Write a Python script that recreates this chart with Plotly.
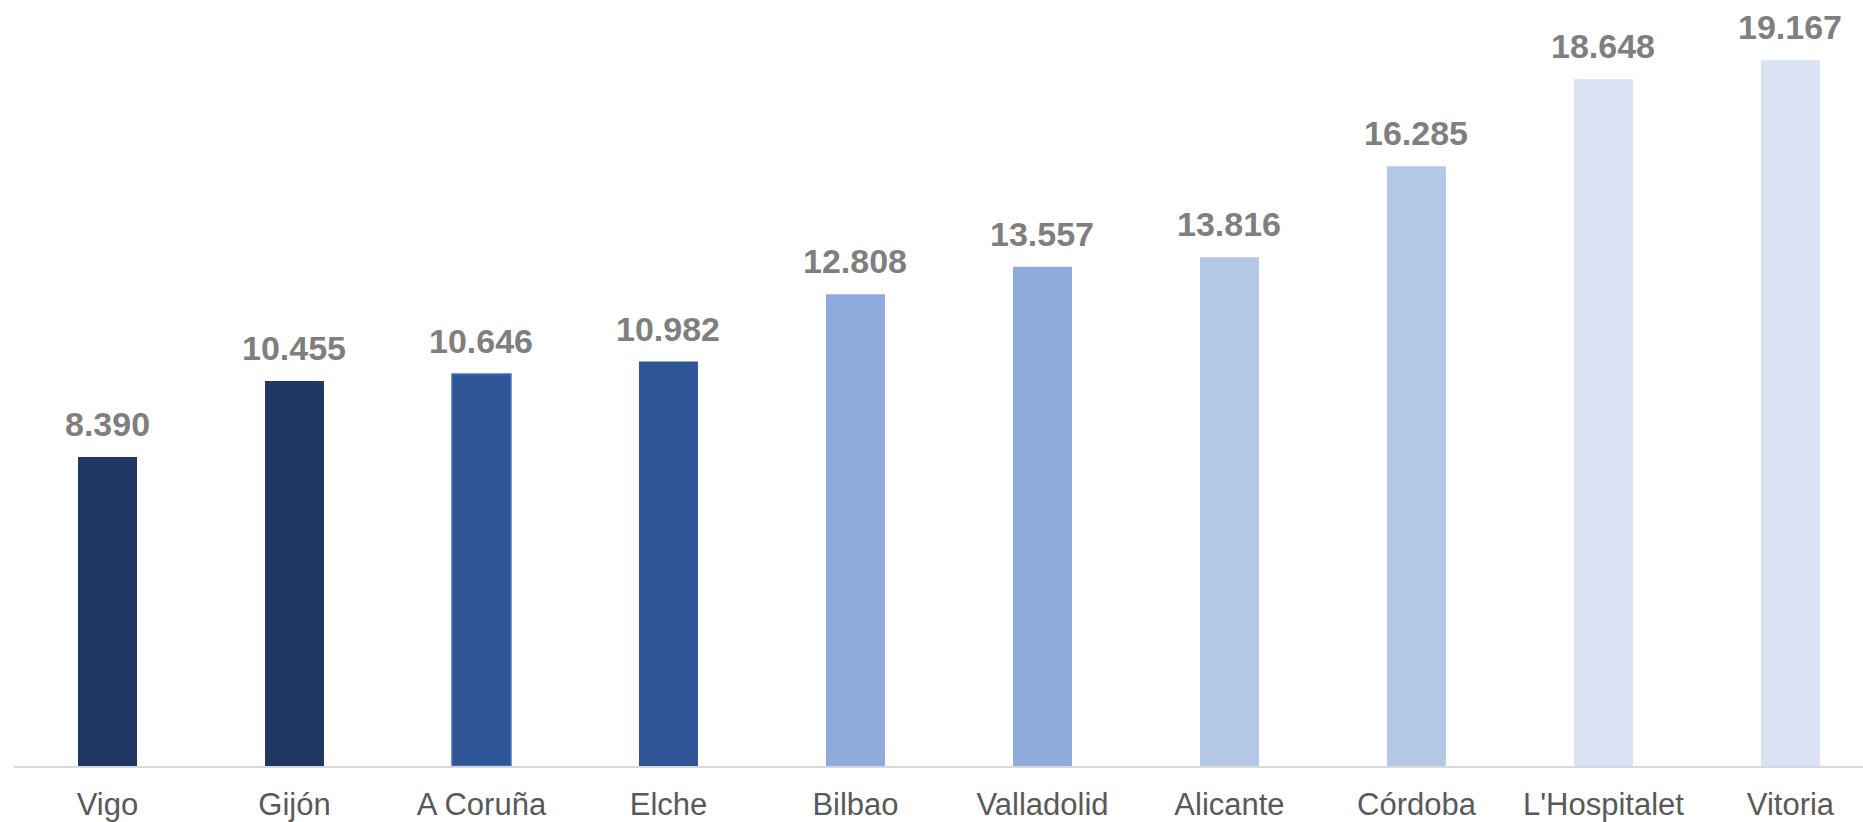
import plotly.graph_objects as go

cities = ["Vigo", "Gijón", "A Coruña", "Elche", "Bilbao", "Valladolid",
          "Alicante", "Córdoba", "L'Hospitalet", "Vitoria"]
values = [8390, 10455, 10646, 10982, 12808, 13557, 13816, 16285, 18648, 19167]
bar_colors = ["#203864", "#203864", "#2F5597", "#2F5597", "#8FAADC", "#8FAADC",
              "#B4C7E7", "#B4C7E7", "#DAE3F3", "#DAE3F3"]
edge_colors = ["#203864", "#203864", "#4472C4", "#2F5597", "#8FAADC", "#8FAADC",
               "#B4C7E7", "#B4C7E7", "#DAE3F3", "#DAE3F3"]
edge_widths = [0, 0, 1.5, 0, 0, 0, 0, 0, 0, 0]

labels = [f"{v:,}".replace(",", ".") for v in values]

fig = go.Figure()
fig.add_trace(go.Bar(
    x=cities, y=values,
    marker=dict(color=bar_colors, line=dict(color=edge_colors, width=edge_widths)),
    width=0.3155,
    hoverinfo="skip",
))

for c, v, t in zip(cities, values, labels):
    fig.add_annotation(x=c, y=v, text=f"<b>{t}</b>", showarrow=False,
                       yanchor="bottom", yshift=12,
                       font=dict(family="Liberation Sans, Arial", size=34, color="#7F7F7F"))

fig.update_layout(
    width=1863, height=822,
    margin=dict(l=14, r=0, t=0, b=56, autoexpand=False),
    paper_bgcolor="white", plot_bgcolor="white",
    showlegend=False,
    font=dict(family="Liberation Sans, Arial"),
    xaxis=dict(
        range=[-0.5, 9.388], automargin=False,
        showline=True, linecolor="#D9D9D9", linewidth=2,
        showgrid=False, zeroline=False,
        ticks="", ticklabelstandoff=10,
        tickfont=dict(family="Liberation Sans, Arial", size=31, color="#595959"),
        fixedrange=True,
    ),
    yaxis=dict(
        range=[0, 20800], visible=False, showgrid=False, zeroline=False,
        fixedrange=True, automargin=False,
    ),
)

fig.write_html("out.html", config={"displayModeBar": False},
               post_script="document.body.style.margin='0';")
